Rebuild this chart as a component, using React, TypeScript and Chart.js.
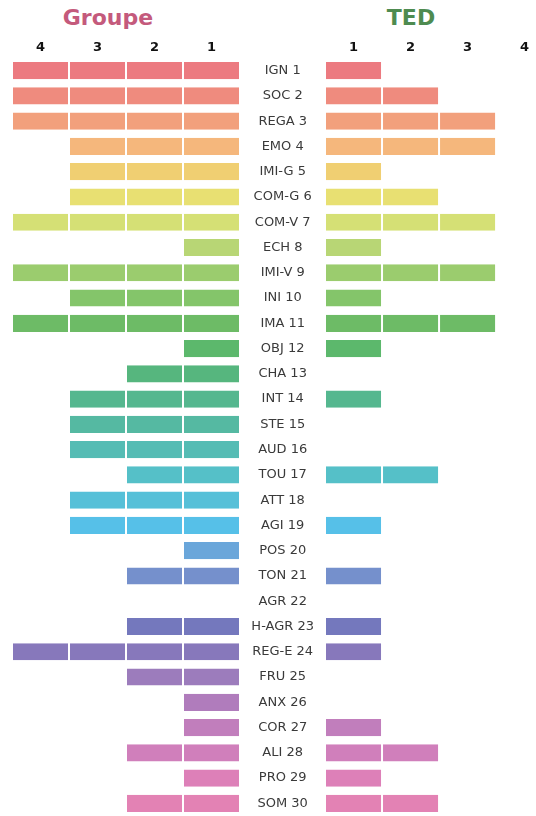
import React, { useEffect, useRef } from "react";
import { Chart, registerables } from "chart.js";

Chart.register(...registerables);

const categories = [
  "IGN 1", "SOC 2", "REGA 3", "EMO 4", "IMI-G 5", "COM-G 6", "COM-V 7", "ECH 8",
  "IMI-V 9", "INI 10", "IMA 11", "OBJ 12", "CHA 13", "INT 14", "STE 15", "AUD 16",
  "TOU 17", "ATT 18", "AGI 19", "POS 20", "TON 21", "AGR 22", "H-AGR 23", "REG-E 24",
  "FRU 25", "ANX 26", "COR 27", "ALI 28", "PRO 29", "SOM 30",
];

const groupeValues = [4, 4, 4, 3, 3, 3, 4, 1, 4, 3, 4, 1, 2, 3, 3, 3, 2, 3, 3, 1, 2, 0, 2, 4, 2, 1, 1, 2, 1, 2];
const tedValues = [1, 2, 3, 3, 1, 2, 3, 1, 3, 1, 3, 1, 0, 1, 0, 0, 2, 0, 1, 0, 1, 0, 1, 1, 0, 0, 1, 2, 1, 2];

const barColors = [
  "#ec7a80", "#ef8b7e", "#f2a07c", "#f5b77c", "#f0cf72", "#e8e072", "#d5e075", "#b8d675",
  "#9bcc6e", "#84c56a", "#6dbb66", "#5cb86c", "#56b67e", "#55b78f", "#55b9a2", "#55bcb4",
  "#55c0c8", "#56c0d8", "#56c0e8", "#6aa6da", "#7590cc", "#7584c4", "#7478bd", "#8778bb",
  "#9c7cbc", "#b07cbc", "#c17ebc", "#d07fbb", "#dd80b8", "#e382b4",
];

const tickValues = [0.5, 1.5, 2.5, 3.5];
const tickLabels = ["1", "2", "3", "4"];
const segmentCount = 4;

const FONT = "'DejaVu Sans', Verdana, sans-serif";

function segments(values: number[]) {
  return Array.from({ length: segmentCount }, (_, k) => ({
    data: values.map((v) => (v >= k + 1 ? 1 : null)),
    backgroundColor: barColors,
    borderColor: "rgba(255,255,255,0.95)",
    borderWidth: { left: 1, right: 1, top: 0, bottom: 0 },
    borderSkipped: false,
    categoryPercentage: 1,
    barPercentage: 0.68,
  }));
}

function xAxis(reverse: boolean, max: number) {
  return {
    type: "linear" as const,
    position: "top" as const,
    reverse,
    min: 0,
    max,
    stacked: true,
    grid: { display: false, drawTicks: false },
    border: { display: false },
    afterBuildTicks: (axis: any) => {
      axis.ticks = tickValues.map((v) => ({ value: v }));
    },
    afterFit: (axis: any) => {
      axis.height = 58;
      axis.paddingLeft = 0;
      axis.paddingRight = 0;
    },
    ticks: {
      padding: 3,
      color: "#111",
      font: { family: FONT, size: 13, weight: "bold" as const },
      callback: (_v: any, i: number) => tickLabels[i],
    },
  };
}

export default function App() {
  const leftRef = useRef<HTMLCanvasElement>(null);
  const rightRef = useRef<HTMLCanvasElement>(null);

  useEffect(() => {
    document.body.style.margin = "0";
    const left = new Chart(leftRef.current!, {
      type: "bar",
      data: { labels: categories, datasets: segments(groupeValues) as any },
      options: {
        indexAxis: "y",
        responsive: false,
        animation: false,
        devicePixelRatio: 1,
        layout: { padding: { left: 12, right: 0, top: 0, bottom: 0 } },
        plugins: { legend: { display: false }, tooltip: { enabled: false }, title: { display: false } },
        scales: {
          x: xAxis(true, 4) as any,
          y: { stacked: true, display: false },
        },
      },
    });
    const right = new Chart(rightRef.current!, {
      type: "bar",
      data: { labels: categories, datasets: segments(tedValues) as any },
      options: {
        indexAxis: "y",
        responsive: false,
        animation: false,
        devicePixelRatio: 1,
        layout: { padding: 0 },
        plugins: { legend: { display: false }, tooltip: { enabled: false }, title: { display: false } },
        scales: {
          x: xAxis(false, 3.7) as any,
          y: {
            stacked: true,
            grid: { display: false, drawTicks: false },
            border: { display: false },
            afterFit: (axis: any) => {
              axis.width = 85;
              axis.paddingTop = 0;
              axis.paddingBottom = 0;
            },
            ticks: {
              crossAlign: "center",
              padding: 11,
              color: "#3a3a3a",
              font: { family: FONT, size: 13 },
            },
          },
        },
      },
    });
    return () => {
      left.destroy();
      right.destroy();
    };
  }, []);

  const titleStyle: React.CSSProperties = {
    position: "absolute",
    top: 4,
    width: 160,
    textAlign: "center",
    fontFamily: FONT,
    fontWeight: "bold",
    fontSize: 22,
    lineHeight: "28px",
  };

  return (
    <div style={{ position: "relative", width: 536, height: 816, overflow: "hidden", background: "#fff" }}>
      <div style={{ ...titleStyle, left: 108 - 80, color: "#c45a7c" }}>Groupe</div>
      <div style={{ ...titleStyle, left: 411 - 80, color: "#4e8b50" }}>TED</div>
      <canvas ref={leftRef} width={240} height={816} style={{ position: "absolute", left: 0, top: 0 }} />
      <canvas ref={rightRef} width={296} height={816} style={{ position: "absolute", left: 240, top: 0 }} />
    </div>
  );
}
